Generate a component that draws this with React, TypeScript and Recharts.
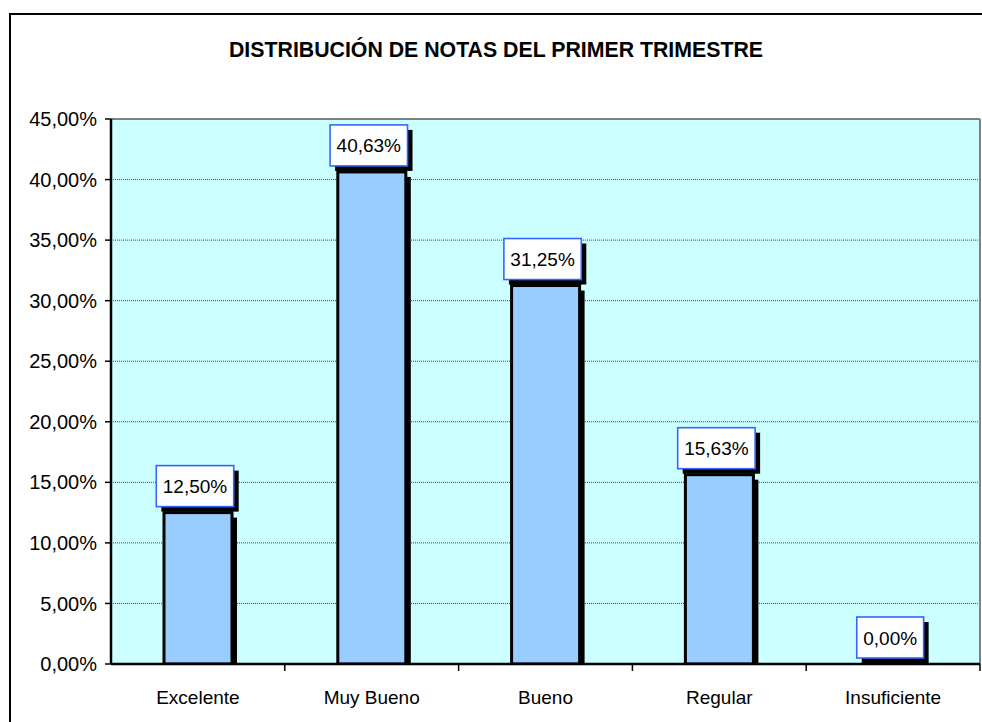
import React from 'react';
import { BarChart, Bar, XAxis, YAxis, CartesianGrid, LabelList, ReferenceLine } from 'recharts';

const categories = ['Excelente', 'Muy Bueno', 'Bueno', 'Regular', 'Insuficiente'];
const percentages = [12.5, 40.63, 31.25, 15.63, 0];
const yTicks = [0, 5, 10, 15, 20, 25, 30, 35, 40, 45];
const title = 'DISTRIBUCIÓN DE NOTAS DEL PRIMER TRIMESTRE';

const data = categories.map((c, i) => ({ name: c, value: percentages[i] }));

const FONT = '"Liberation Sans", Arial, sans-serif';
const fmt = (v: number) => v.toFixed(2).replace('.', ',') + '%';

const charW = (ch: string) => {
  if (ch === ',') return 0.278;
  if (ch === '%') return 0.889;
  return 0.556;
};

const ShadowBar = (props: any) => {
  const { x, y, width, height } = props;
  if (!height || height <= 0) return null;
  const off = 5;
  return (
    <g>
      <rect x={x + off} y={y + off} width={width} height={Math.max(0, height - off)} fill="#000" />
      <rect x={x} y={y} width={width} height={height} fill="#99CCFF" stroke="#000" strokeWidth={3} />
    </g>
  );
};

const BoxLabel = (props: any) => {
  const { x, y, width, value } = props;
  const text = fmt(Number(value));
  const fs = 19;
  let tw = 0;
  for (const ch of text) tw += charW(ch) * fs;
  const bw = tw + 13;
  const bh = 41;
  const cx = x + width / 2 - 3;
  const bx = cx - bw / 2;
  const by = y - 6 - bh;
  return (
    <g>
      <rect x={bx + 5} y={by + 5} width={bw} height={bh} fill="#000" />
      <rect x={bx} y={by} width={bw} height={bh} fill="#fff" stroke="#3366FF" strokeWidth={1.6} />
      <text x={cx} y={by + bh / 2 + 7} textAnchor="middle" fontFamily={FONT} fontSize={fs} fill="#000">
        {text}
      </text>
    </g>
  );
};

const XTick = (props: any) => {
  const { x, y, payload } = props;
  const off = payload && payload.offset != null ? payload.offset : 87;
  return (
    <g>
      <line x1={x + off} y1={y} x2={x + off} y2={y + 7} stroke="#000" strokeWidth={1.5} />
      <text x={x} y={y + 40} textAnchor="middle" fontFamily={FONT} fontSize={19} fill="#000">
        {payload.value}
      </text>
    </g>
  );
};

export default function App() {
  return (
    <div
      style={{
        position: 'fixed',
        left: 0,
        top: 0,
        width: 982,
        height: 722,
        overflow: 'hidden',
        background: '#fff',
      }}
    >
      <div
        style={{
          position: 'absolute',
          left: 9,
          top: 13,
          width: 1200,
          height: 1200,
          borderLeft: '2px solid #000',
          borderTop: '2px solid #000',
          boxSizing: 'border-box',
        }}
      />
      <div style={{ position: 'absolute', left: 0, top: 0 }}>
        <BarChart
          width={982}
          height={722}
          data={data}
          margin={{ top: 119, right: 2, bottom: 18, left: 0 }}
        >
          <CartesianGrid
            horizontal={true}
            vertical={false}
            fill="#CCFFFF"
            stroke="#444"
            strokeDasharray="1 1"
          />
          <XAxis
            dataKey="name"
            tickLine={false}
            tickSize={0}
            tickMargin={0}
            axisLine={{ stroke: '#000', strokeWidth: 2.5 }}
            tick={<XTick />}
            height={40}
            interval={0}
          />
          <YAxis
            domain={[0, 45]}
            ticks={yTicks}
            width={111}
            tickFormatter={(v: number) => fmt(v)}
            tickSize={6}
            tickMargin={8}
            tickLine={{ stroke: '#000', strokeWidth: 1.5 }}
            axisLine={{ stroke: '#000', strokeWidth: 2.5 }}
            tick={{ fontFamily: FONT, fontSize: 20, fill: '#000' }}
            allowDataOverflow
          />
          <ReferenceLine y={45} stroke="#808080" strokeWidth={2} />
          <ReferenceLine
            x={categories[categories.length - 1]}
            position="end"
            stroke="#808080"
            strokeWidth={2}
          />
          <Bar dataKey="value" barSize={68} shape={<ShadowBar />} isAnimationActive={false}>
            <LabelList dataKey="value" content={<BoxLabel />} />
          </Bar>
        </BarChart>
      </div>
      <div
        style={{
          position: 'absolute',
          left: 0,
          width: 992,
          top: 38,
          textAlign: 'center',
          fontFamily: FONT,
          fontWeight: 'bold',
          fontSize: 21.3,
          lineHeight: '24px',
          color: '#000',
        }}
      >
        {title}
      </div>
    </div>
  );
}
